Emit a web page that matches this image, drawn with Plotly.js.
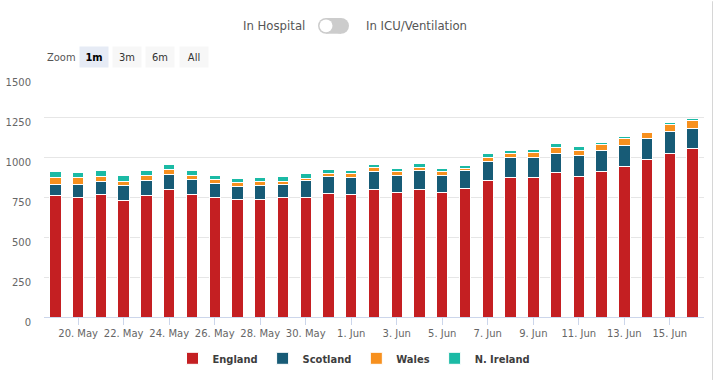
<!DOCTYPE html>
<html>
<head>
<meta charset="utf-8">
<script src="https://cdn.plot.ly/plotly-3.0.1.min.js"></script>
<style>
  html, body { margin: 0; padding: 0; background: #ffffff; }
  #chart { width: 717px; height: 385px; }
</style>
</head>
<body>
<div id="chart"></div>
<script>
// ---- data ----
const dates = [
  '2021-05-19','2021-05-20','2021-05-21','2021-05-22','2021-05-23','2021-05-24','2021-05-25',
  '2021-05-26','2021-05-27','2021-05-28','2021-05-29','2021-05-30','2021-05-31','2021-06-01',
  '2021-06-02','2021-06-03','2021-06-04','2021-06-05','2021-06-06','2021-06-07','2021-06-08',
  '2021-06-09','2021-06-10','2021-06-11','2021-06-12','2021-06-13','2021-06-14','2021-06-15',
  '2021-06-16'
];
const england  = [758,747,764,731,759,796,763,744,736,737,744,749,770,768,798,777,798,777,805,853,875,869,902,881,908,941,984,1025,1051];
const scotland = [73,81,80,88,93,93,99,90,82,88,86,106,108,105,111,106,116,108,108,119,119,125,119,129,130,131,130,133,129];
const wales    = [40,42,37,28,35,35,25,24,22,22,20,13,20,22,24,24,22,23,18,28,31,37,38,33,42,45,40,45,47];
const nireland = [37,33,33,38,31,31,31,29,26,28,28,26,21,23,18,21,23,22,19,21,17,17,24,21,13,9,8,15,14];
const seriesNames = ['England','Scotland','Wales','N. Ireland'];
const yTicks = [0,250,500,750,1000,1250,1500];
const zoomButtons = ['1m','3m','6m','All'];

// ---- styling ----
const colors = ['#c41f22','#175b76','#f7901e','#1bbaa5'];
const NARROW = 'DejaVu Sans Condensed, Liberation Sans Narrow, sans-serif';
const W = 717, H = 385;
const M = {l: 44, r: 13, t: 77, b: 64};
const PW = W - M.l - M.r, PH = H - M.t - M.b;
const px = x => (x - M.l) / PW;           // pixel -> paper x
const py = y => (H - M.b - y) / PH;       // pixel -> paper y

const values = [england, scotland, wales, nireland];
const traces = values.map((v, i) => ({
  type: 'bar',
  name: seriesNames[i],
  x: dates,
  y: v,
  marker: {color: colors[i], line: {color: '#ffffff', width: 1}},
  hovertemplate: '%{x|%-d. %b}<br>' + seriesNames[i] + ': %{y}<extra></extra>'
}));

const shapes = [
  // toggle switch
  {type:'circle', xref:'paper', yref:'paper', x0:px(318), x1:px(334), y0:py(33), y1:py(17), fillcolor:'#cccccc', line:{width:0}},
  {type:'circle', xref:'paper', yref:'paper', x0:px(333), x1:px(349), y0:py(33), y1:py(17), fillcolor:'#cccccc', line:{width:0}},
  {type:'rect', xref:'paper', yref:'paper', x0:px(326), x1:px(341), y0:py(33), y1:py(17), fillcolor:'#cccccc', line:{width:0}},
  {type:'circle', xref:'paper', yref:'paper', x0:px(319.5), x1:px(332.5), y0:py(31.5), y1:py(18.5), fillcolor:'#ffffff', line:{width:0}},
  // right border of container
  {type:'line', xref:'paper', yref:'paper', x0:px(712.5), x1:px(712.5), y0:py(0), y1:py(H), line:{color:'#d6d6d6', width:1}}
];

const annotations = [
  {text:'In Hospital', xref:'paper', yref:'paper', x:px(307), y:py(25), xanchor:'right', yanchor:'middle', showarrow:false,
   font:{family:NARROW, size:13, color:'#555555'}},
  {text:'In ICU/Ventilation', xref:'paper', yref:'paper', x:px(364), y:py(25), xanchor:'left', yanchor:'middle', showarrow:false,
   font:{family:NARROW, size:13, color:'#555555'}},
  {text:'Zoom', xref:'paper', yref:'paper', x:px(45), y:py(57), xanchor:'left', yanchor:'middle', showarrow:false,
   font:{family:NARROW, size:11, color:'#555555'}}
];
const btnX = [79, 112, 145, 179];
zoomButtons.forEach((b, i) => {
  annotations.push({
    text: i === 0 ? '<b>' + b + '</b>' : b,
    xref:'paper', yref:'paper', x:px(btnX[i]), y:py(57), xanchor:'left', yanchor:'middle', showarrow:false,
    width: 28, height: 20, align:'center', valign:'middle',
    bgcolor: i === 0 ? '#e6ebf5' : '#f7f7f7', borderpad: 0,
    font:{family:NARROW, size:11, color: i === 0 ? '#000000' : '#333333'}
  });
});

const layout = {
  width: W, height: H,
  margin: M,
  paper_bgcolor: '#ffffff',
  plot_bgcolor: '#ffffff',
  barmode: 'stack',
  bargap: 0.5,
  showlegend: true,
  legend: {
    orientation: 'h', x: px(354), xanchor: 'center', y: py(363), yanchor: 'middle',
    font: {family: NARROW, size: 11, color: '#3d3d3d', weight: 'bold'},
    traceorder: 'normal', itemclick: false, itemdoubleclick: false
  },
  xaxis: {
    type: 'date',
    range: ['2021-05-18 12:00', '2021-06-16 12:00'],
    tick0: '2021-05-20', dtick: 2 * 86400000,
    tickformat: '%-d. %b',
    ticks: 'outside', ticklen: 7, tickcolor: '#ccd6eb', tickwidth: 1,
    showline: true, linecolor: '#ccd6eb', linewidth: 1,
    showgrid: false, zeroline: false,
    tickfont: {family: 'DejaVu Sans, sans-serif', size: 10, color: '#666666'}
  },
  yaxis: {
    range: [0, 1500],
    tickvals: yTicks,
    ticktext: yTicks.map(String),
    showgrid: true, gridcolor: '#e6e6e6', gridwidth: 1,
    zeroline: false, showline: false, ticks: '',
    ticklabelstandoff: 12, ticklabelshift: 5,
    tickfont: {family: 'DejaVu Sans, sans-serif', size: 10, color: '#666666'}
  },
  shapes: shapes,
  annotations: annotations,
  hovermode: 'closest'
};

Plotly.newPlot('chart', traces, layout, {displayModeBar: false});
</script>
</body>
</html>
